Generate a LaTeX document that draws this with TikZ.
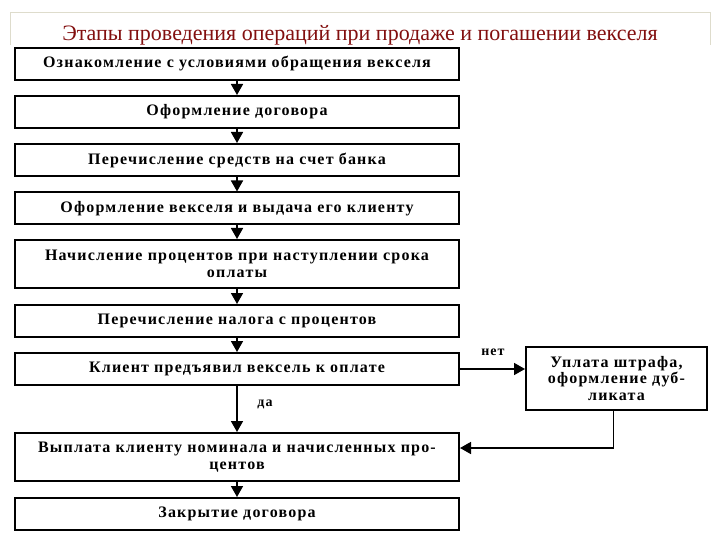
\documentclass[tikz,border=0pt]{standalone}
\usepackage{fontspec}
\setmainfont{Liberation Serif}
\newfontfamily\boxfont{Liberation Serif}[LetterSpace=7.5]
\usetikzlibrary{arrows.meta}
\definecolor{titlered}{RGB}{130,15,15}
\definecolor{framec}{RGB}{222,220,204}
\begin{document}
\begin{tikzpicture}[x=1pt,y=-1pt,
  stepbox/.style={draw, line width=2pt, minimum width=444pt, inner sep=0pt, align=center,
    font=\boxfont\bfseries\fontsize{16}{17}\selectfont},
  sidebox/.style={draw, line width=2pt, minimum width=181pt, minimum height=63pt, inner sep=0pt, align=center,
    font=\boxfont\bfseries\fontsize{16}{16.5}\selectfont},
  flow/.style={line width=1.6pt, -{Triangle[length=11pt,width=12pt]}},
  lbl/.style={font=\boxfont\bfseries\fontsize{14}{16}\selectfont}]
\useasboundingbox (0,0) rectangle (720,540);
\draw[framec, line width=1pt] (10,45) -- (10,13) -- (710,13) -- (710,45);
\node[titlered, font=\fontsize{22}{24}\selectfont] (title) at (360,35) {Этапы проведения операций при продаже и погашении векселя};
\node[stepbox, minimum height=32pt] (b1) at (237,64) {Ознакомление с условиями обращения векселя};
\node[stepbox, minimum height=32pt] (b2) at (237,112) {Оформление договора};
\node[stepbox, minimum height=32pt] (b3) at (237,160) {Перечисление средств на счет банка};
\node[stepbox, minimum height=32pt] (b4) at (237,208.5) {Оформление векселя и выдача его клиенту};
\node[stepbox, minimum height=48pt] (b5) at (237,264) {Начисление процентов при наступлении срока\\оплаты};
\node[stepbox, minimum height=32pt] (b6) at (237,321) {Перечисление налога с процентов};
\node[stepbox, minimum height=32pt] (b7) at (237,369) {Клиент предъявил вексель к оплате};
\node[stepbox, minimum height=48pt] (b8) at (237,457) {Выплата клиенту номинала и начисленных про-\\центов};
\node[stepbox, minimum height=32pt] (b9) at (237,514) {Закрытие договора};
\node[sidebox] (r) at (616.5,378.5) {Уплата штрафа,\\оформление дуб-\\ликата};
\draw[flow] (b1) -- (b2);
\draw[flow] (b2) -- (b3);
\draw[flow] (b3) -- (b4);
\draw[flow] (b4) -- (b5);
\draw[flow] (b5) -- (b6);
\draw[flow] (b6) -- (b7);
\draw[flow] (b7) -- (b8);
\draw[flow] (b8) -- (b9);
\draw[flow] (b7.east) -- (b7.east -| r.west);
\draw[flow] ([xshift=-3pt]r.south) |- ([yshift=9pt]b8.east);
\node[lbl] (net) at (493,352) {нет};
\node[lbl] (da) at (265,404) {да};
\end{tikzpicture}
\end{document}
